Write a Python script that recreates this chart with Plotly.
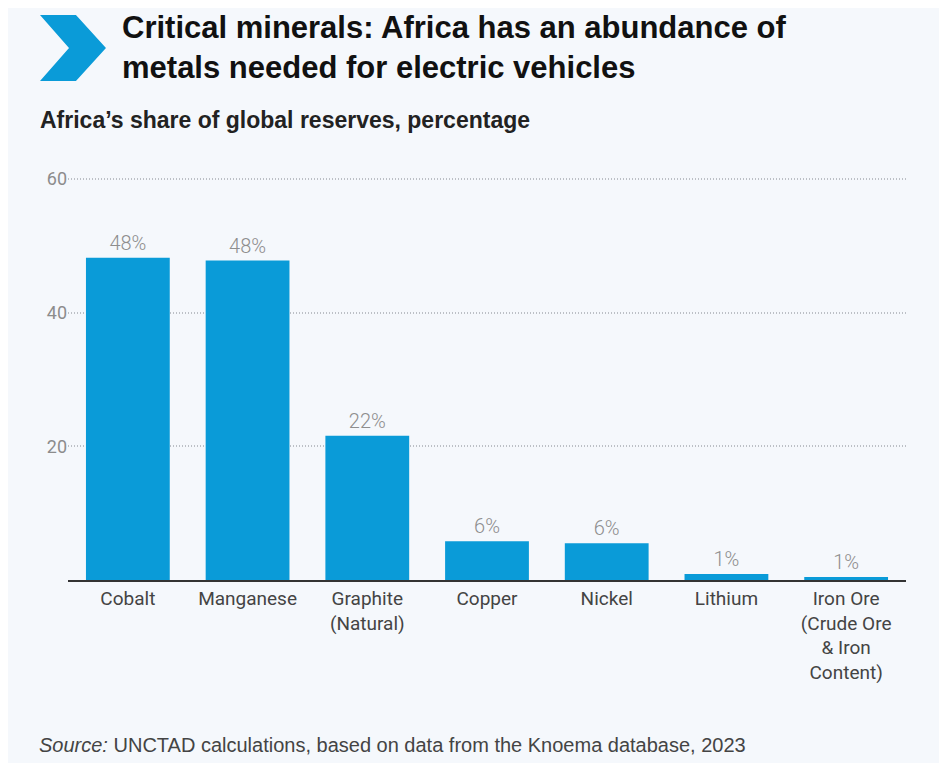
import plotly.graph_objects as go

# data
minerals = ["Cobalt", "Manganese", "Graphite<br>(Natural)", "Copper", "Nickel", "Lithium",
            "Iron Ore<br>(Crude Ore<br>& Iron<br>Content)"]
share = [48.2, 47.8, 21.6, 5.8, 5.5, 0.9, 0.45]
share_labels = ["48%", "48%", "22%", "6%", "6%", "1%", "1%"]
y_ticks = [20, 40, 60]

# page body has an 8px margin, so the figure is drawn 8px in from the window edge
OFF = 8
W, H = 947 - OFF, 763 - OFF
L, R, T, B = 68 - OFF, 41, 177 - OFF, 183
BG = "#f5f8fc"
BLUE = "#0a9bd8"
NARROW = "Roboto, sans-serif"

def px(x, y):
    # window pixel position -> paper coords
    x, y = x - OFF, y - OFF
    return (x - L) / (W - L - R), (H - B - y) / (H - T - B)

fig = go.Figure(go.Bar(
    x=minerals, y=share, text=share_labels, textposition="outside",
    textfont=dict(size=20, color="#8e8e8e", family=NARROW, weight=300),
    marker=dict(color=BLUE, line=dict(width=0)),
    cliponaxis=False, hoverinfo="skip",
))

fig.update_xaxes(
    showgrid=False, showline=True, linecolor="#333", linewidth=2,
    tickfont=dict(size=19, color="#444", family=NARROW),
    ticks="", fixedrange=True,
)
fig.update_yaxes(
    range=[0, 60.3], tickvals=y_ticks, showgrid=True, gridcolor="#bcc0c6", griddash="1px,2px",
    gridwidth=1.5, zeroline=False, showline=False, ticks="", ticklen=0,
    tickfont=dict(size=18, color="#8c8c8c", family=NARROW),
)

# chevron logo
pts = [px(40, 15), px(76, 15), px(106, 48), px(76, 81), px(40, 81), px(69, 48)]
path = "M " + " L ".join(f"{a:.4f},{b:.4f}" for a, b in pts) + " Z"
fig.add_shape(type="path", path=path, xref="paper", yref="paper",
              fillcolor=BLUE, line=dict(width=0))

ann = []
tx, ty = px(120, 8)
ann.append(dict(text="<b>Critical minerals: Africa has an abundance of<br>metals needed for electric vehicles</b>",
                x=tx, y=ty, xanchor="left", yanchor="top", align="left",
                font=dict(size=31, color="#111", family="Liberation Sans, sans-serif")))
sx, sy = px(38, 105)
ann.append(dict(text="Africa’s share of global reserves, percentage",
                x=sx, y=sy, xanchor="left", yanchor="top",
                font=dict(size=23, color="#222", family="Liberation Sans, sans-serif", weight=600)))
cx, cy = px(37, 732)
ann.append(dict(text="<i>Source:</i> UNCTAD calculations, based on data from the Knoema database, 2023",
                x=cx, y=cy, xanchor="left", yanchor="top",
                font=dict(size=20, color="#444", family="Liberation Sans, sans-serif")))
for a in ann:
    a.update(xref="paper", yref="paper", showarrow=False)

fig.update_layout(
    width=W, height=H, margin=dict(l=L, r=R, t=T, b=B),
    paper_bgcolor=BG, plot_bgcolor=BG, bargap=0.3,
    showlegend=False, annotations=ann,
)

fig.write_html("out.html")
